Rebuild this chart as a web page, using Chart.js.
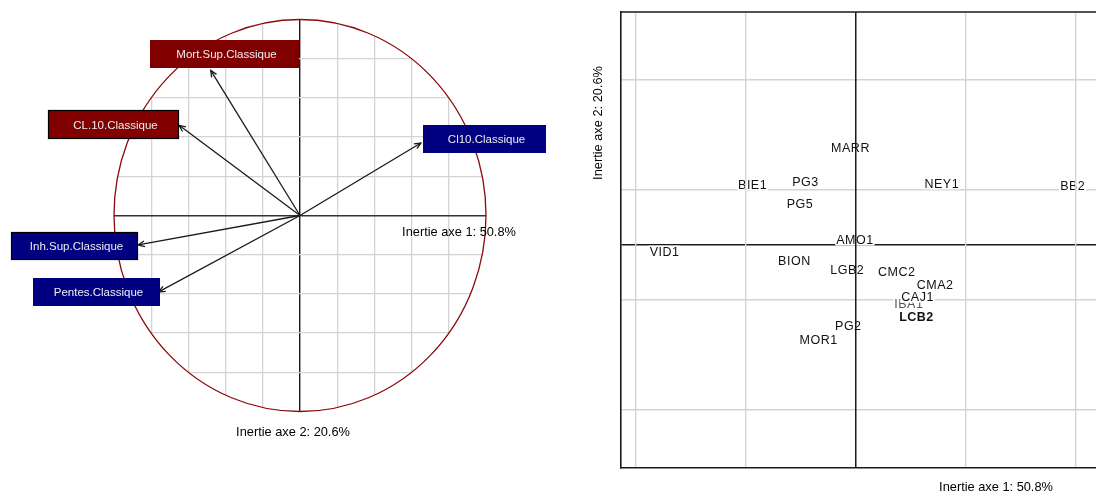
<!DOCTYPE html>
<html lang="fr">
<head>
<meta charset="utf-8">
<title>ACP – cercle des corrélations et plan factoriel</title>
<script src="https://cdn.jsdelivr.net/npm/chart.js@4.4.1/dist/chart.umd.min.js"></script>
<style>
  html, body { margin: 0; padding: 0; background: #fff; }
  #wrap { position: relative; width: 1096px; height: 493px; overflow: hidden; }
  canvas { position: absolute; top: 0; }
  #cercle { left: 0; }
  #plan { left: 590px; }
</style>
</head>
<body>
<div id="wrap">
  <canvas id="cercle" width="590" height="493"></canvas>
  <canvas id="plan" width="506" height="493"></canvas>
</div>
<script>
'use strict';
// ============================================================================
// ACP : à gauche le cercle des corrélations (variables), à droite le plan
// factoriel des individus (axes 1 et 2).
// ============================================================================

// --- données : variables (cercle des corrélations) ---
const VAR_NOMS = ['Mort.Sup.Classique', 'CL.10.Classique', 'Cl10.Classique', 'Inh.Sup.Classique', 'Pentes.Classique'];
const VAR_AXE1 = [-0.48, -0.65, 0.65, -0.87, -0.76];
const VAR_AXE2 = [0.74, 0.46, 0.37, -0.15, -0.39];
const GRILLE_CERCLE = [-0.8, -0.6, -0.4, -0.2, 0, 0.2, 0.4, 0.6, 0.8];

// --- données : individus (plan factoriel) ---
const IND_NOMS = ['MARR', 'BIE1', 'PG3', 'NEY1', 'BB2', 'PG5', 'AMO1', 'VID1', 'BION', 'LGB2', 'CMC2', 'CMA2', 'IBA1', 'CAJ1', 'LCB2', 'PG2', 'MOR1'];
const IND_AXE1 = [-0.05, -0.94, -0.46, 0.78, 1.97, -0.51, -0.01, -1.74, -0.56, -0.08, 0.37, 0.72, 0.48, 0.56, 0.55, -0.07, -0.34];
const IND_AXE2 = [0.89, 0.55, 0.58, 0.56, 0.54, 0.38, 0.05, -0.06, -0.14, -0.22, -0.24, -0.36, -0.53, -0.47, -0.65, -0.73, -0.86];
const GRILLE_AXE1 = [-2, -1, 0, 1, 2];
const GRILLE_AXE2 = [-1.5, -0.5, 0, 0.5, 1.5];

const TITRE_AXE1 = 'Inertie axe 1: 50.8%';
const TITRE_AXE2 = 'Inertie axe 2: 20.6%';

// --- styles ---
const POLICE = '"Liberation Sans", Arial, Helvetica, sans-serif';
const GRIS = '#d4d4d4', NOIR = '#1a1a1a', BORDEAUX = '#800000', MARINE = '#000080';
// boîte de chaque variable : décalage (px) du coin haut-gauche par rapport à la pointe
const BOITES = [
  { dx: -61, dy: -30, w: 149, h: 28, fond: BORDEAUX, cadre: false },
  { dx: -131, dy: -15, w: 131, h: 29, fond: BORDEAUX, cadre: true },
  { dx: 2, dy: -18, w: 123, h: 28, fond: MARINE, cadre: false },
  { dx: -127, dy: -13, w: 127, h: 28, fond: MARINE, cadre: true },
  { dx: -126, dy: -14, w: 127, h: 28, fond: MARINE, cadre: false },
];
const IND_STYLE = { LCB2: { gras: true }, IBA1: { couleur: '#555' } };

const setTicks = vals => scale => { scale.ticks = vals.map(v => ({ value: v })); };
const gridCol = (c0, c) => ctx => (ctx.tick && ctx.tick.value === 0 ? c0 : c);
const gridW = (w0, w) => ctx => (ctx.tick && ctx.tick.value === 0 ? w0 : w);

// ---------------------------------------------------------------- cercle
function ellipse(chart) {
  const { x, y } = chart.scales;
  const cx = x.getPixelForValue(0), cy = y.getPixelForValue(0);
  const rx = x.getPixelForValue(1) - cx, ry = cy - y.getPixelForValue(1);
  const ctx = chart.ctx;
  ctx.beginPath();
  ctx.ellipse(cx, cy, rx, ry, 0, 0, Math.PI * 2);
}

const cerclePlugin = {
  id: 'cercle',
  beforeDraw(chart) {            // grille découpée par le cercle
    chart.ctx.save();
    ellipse(chart);
    chart.ctx.clip();
  },
  beforeDatasetsDraw(chart) {
    const ctx = chart.ctx;
    ctx.restore();
    ellipse(chart);
    ctx.strokeStyle = '#8b0a0a'; ctx.lineWidth = 1.3; ctx.stroke();
  },
  afterDatasetsDraw(chart) {
    const ctx = chart.ctx, { x, y } = chart.scales;
    const ox = x.getPixelForValue(0), oy = y.getPixelForValue(0);
    ctx.save();
    VAR_NOMS.forEach((nom, i) => {
      const tx = x.getPixelForValue(VAR_AXE1[i]), ty = y.getPixelForValue(VAR_AXE2[i]);
      // pointe de flèche
      const a = Math.atan2(ty - oy, tx - ox), L = 7, o = 0.42;
      ctx.beginPath();
      ctx.moveTo(tx - L * Math.cos(a - o), ty - L * Math.sin(a - o));
      ctx.lineTo(tx, ty);
      ctx.lineTo(tx - L * Math.cos(a + o), ty - L * Math.sin(a + o));
      ctx.strokeStyle = NOIR; ctx.lineWidth = 1.3; ctx.stroke();
      // étiquette
      const b = BOITES[i], bx = Math.round(tx + b.dx), by = Math.round(ty + b.dy);
      ctx.fillStyle = b.fond; ctx.fillRect(bx, by, b.w, b.h);
      if (b.cadre) { ctx.strokeStyle = '#000'; ctx.lineWidth = 1.2; ctx.strokeRect(bx + 0.5, by + 0.5, b.w - 1, b.h - 1); }
      ctx.fillStyle = '#eeeeee'; ctx.font = '11.5px ' + POLICE;
      ctx.textAlign = 'center'; ctx.textBaseline = 'middle';
      ctx.fillText(nom, bx + b.w / 2 + 2, by + b.h / 2 + 1);
    });
    ctx.restore();
  },
  afterDraw(chart) {
    const ctx = chart.ctx;
    ctx.save();
    ctx.fillStyle = '#000'; ctx.font = '12.8px ' + POLICE;
    ctx.textAlign = 'center'; ctx.textBaseline = 'middle';
    ctx.fillText(TITRE_AXE1, 459, 232);
    ctx.fillText(TITRE_AXE2, 293, 432);
    ctx.restore();
  },
};

new Chart(document.getElementById('cercle'), {
  type: 'scatter',
  data: {
    datasets: VAR_NOMS.map((nom, i) => ({
      label: nom,
      data: [{ x: 0, y: 0 }, { x: VAR_AXE1[i], y: VAR_AXE2[i] }],
      showLine: true, borderColor: NOIR, borderWidth: 1.3, pointRadius: 0,
    })),
  },
  options: {
    responsive: false, animation: false, events: [],
    layout: { padding: 0 },
    plugins: { legend: { display: false }, tooltip: { enabled: false } },
    scales: {
      x: {
        min: -300 / 186, max: 290 / 186, afterBuildTicks: setTicks(GRILLE_CERCLE),
        ticks: { display: false }, border: { display: false },
        grid: { drawTicks: false, color: gridCol(NOIR, GRIS), lineWidth: gridW(1.4, 1.3) },
      },
      y: {
        min: -277.5 / 196, max: 215.5 / 196, afterBuildTicks: setTicks(GRILLE_CERCLE),
        ticks: { display: false }, border: { display: false },
        grid: { drawTicks: false, color: gridCol('#333', GRIS), lineWidth: gridW(1.6, 1.3) },
      },
    },
  },
  plugins: [cerclePlugin],
});

// ---------------------------------------------------------------- plan factoriel
const planPlugin = {
  id: 'plan',
  afterDatasetsDraw(chart) {     // étiquettes sur fond blanc (sous les verticales)
    const ctx = chart.ctx, meta = chart.getDatasetMeta(0);
    ctx.save();
    ctx.textAlign = 'center'; ctx.textBaseline = 'middle';
    ctx.letterSpacing = '0.5px';
    meta.data.forEach((pt, i) => {
      const nom = IND_NOMS[i], st = IND_STYLE[nom] || {};
      ctx.font = (st.gras ? 'bold ' : '') + '12.5px ' + POLICE;
      const w = ctx.measureText(nom).width;
      ctx.fillStyle = '#fff';
      ctx.fillRect(pt.x - w / 2 - 1, pt.y - 6, w + 2, 12);
      ctx.fillStyle = st.couleur || '#111';
      ctx.fillText(nom, pt.x, pt.y + 1);
    });
    ctx.restore();
  },
  afterDraw(chart) {
    const ctx = chart.ctx, a = chart.chartArea;
    ctx.save();
    ctx.strokeStyle = NOIR; ctx.lineWidth = 1.6;
    ctx.beginPath(); ctx.moveTo(a.left, a.top); ctx.lineTo(a.right, a.top); ctx.stroke();
    ctx.fillStyle = '#000'; ctx.font = '12.8px ' + POLICE;
    ctx.textAlign = 'center'; ctx.textBaseline = 'middle';
    ctx.fillText(TITRE_AXE1, 406, 487);
    ctx.translate(8, 123); ctx.rotate(-Math.PI / 2);
    ctx.fillText(TITRE_AXE2, 0, 0);
    ctx.restore();
  },
};

new Chart(document.getElementById('plan'), {
  type: 'scatter',
  data: {
    datasets: [{
      label: 'Individus',
      data: IND_NOMS.map((n, i) => ({ x: IND_AXE1[i], y: IND_AXE2[i] })),
      pointRadius: 0,
    }],
  },
  options: {
    responsive: false, animation: false, events: [],
    layout: { padding: { left: 31, top: 12, right: 0, bottom: 25 } },
    plugins: { legend: { display: false }, tooltip: { enabled: false } },
    scales: {
      x: {
        min: -235 / 110, max: 240 / 110, afterBuildTicks: setTicks(GRILLE_AXE1),
        ticks: { display: false }, border: { display: true, color: NOIR, width: 1.6, z: 2 },
        grid: { z: 1, drawTicks: false, color: gridCol(NOIR, GRIS), lineWidth: gridW(1.5, 1.4) },
      },
      y: {
        min: -223 / 110, max: 233 / 110, afterBuildTicks: setTicks(GRILLE_AXE2),
        ticks: { display: false }, border: { display: true, color: NOIR, width: 1.6 },
        grid: { drawTicks: false, color: gridCol(NOIR, GRIS), lineWidth: gridW(1.5, 1.4) },
      },
    },
  },
  plugins: [planPlugin],
});
</script>
</body>
</html>
